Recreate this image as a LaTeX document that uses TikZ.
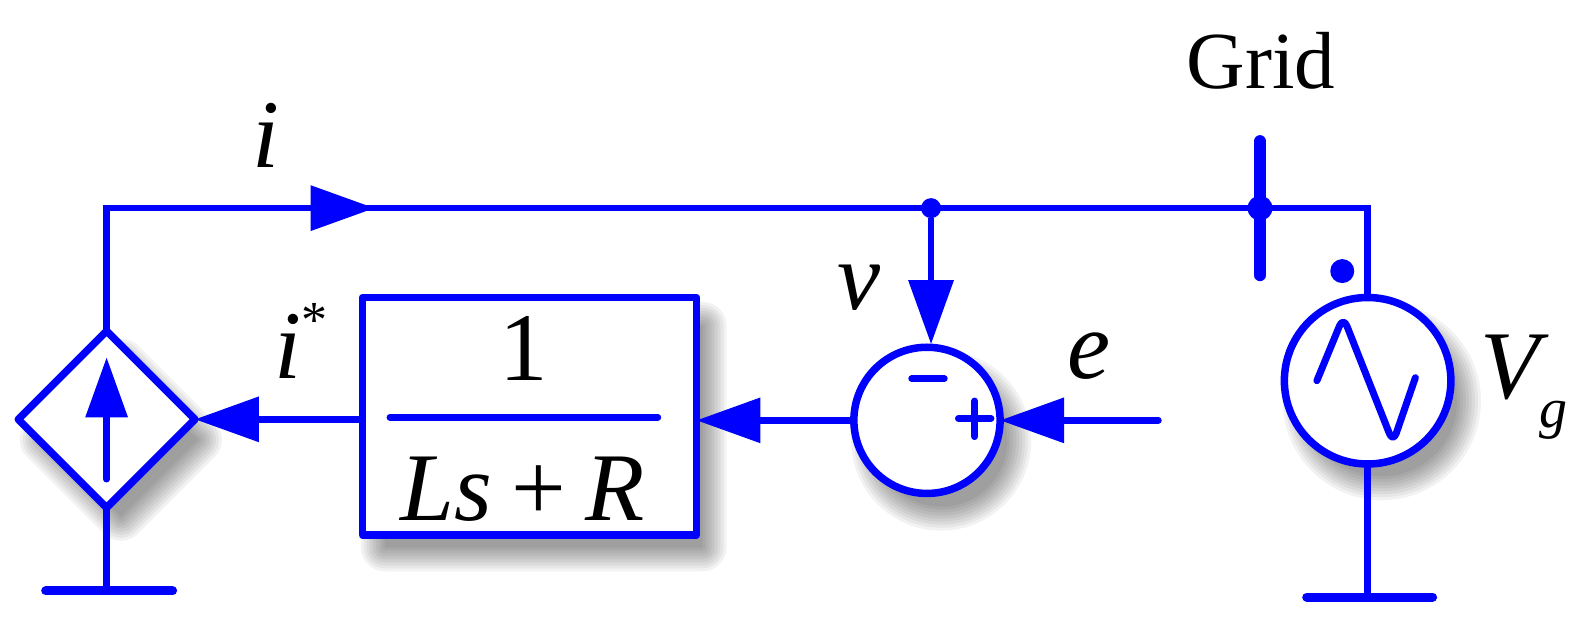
\documentclass[tikz,border=0pt]{standalone}
\usepackage{fontspec}
\setmainfont{Liberation Serif}
\usetikzlibrary{arrows.meta,shapes.geometric}
\definecolor{wireblue}{RGB}{0,0,255}
\tikzset{
  wire/.style={draw=wireblue,line width=6.5pt},
  bar/.style={draw=wireblue,line width=9pt,line cap=round},
  blockshape/.style={draw=wireblue,line width=7.5pt,fill=white,inner sep=0pt,outer sep=0pt,line join=round},
  flow/.style={wire,-{Triangle[length=64pt,width=44pt]}},
  dotmark/.style={circle,fill=wireblue,inner sep=0pt,outer sep=0pt},
  mathlabel/.style={inner sep=0pt,text=black,font=\fontsize{97}{97}\selectfont\itshape},
  symb/.style={draw=wireblue,line width=7pt,line cap=round,line join=round},
  shadowpart/.style={draw=black,fill=black,line join=round}
}
\begin{document}
\begin{tikzpicture}[x=1.0153pt,y=-1.0153pt]
\useasboundingbox (0,0) rectangle (1568,615.6);
% soft shadows
\foreach \w in {48,42,36,30,24,18,12,6,0.1}{
  \begin{scope}[transparency group,opacity=.05]
  \path (0,0) rectangle (1568,615.6);
  \begin{scope}[shift={(14,20)},line width=\w pt]
  \draw[shadowpart] (105,337)--(181,413)--(105,489)--(29,413)--cycle;
  \draw[shadowpart] (365,301) rectangle (678,519);
  \draw[shadowpart] (913,414) circle (65);
  \draw[shadowpart] (1347,375) circle (74);
  \end{scope}
  \end{scope}
}
% blocks
\node[blockshape,diamond,aspect=1,minimum width=176.7pt,minimum height=176.7pt] (src) at (105,413) {};
\node[blockshape,rectangle,minimum width=334pt,minimum height=237.6pt] (tf) at (521.5,410) {};
\node[blockshape,circle,minimum size=146.2pt] (sum) at (913,414) {};
\node[blockshape,circle,minimum size=166.5pt] (gen) at (1347,375) {};
% junctions and free ends
\node[dotmark,minimum size=20pt] (jv) at (917,205) {};
\node[dotmark,minimum size=25pt] (jg) at (1241,205) {};
\node[dotmark,minimum size=24pt] (pol) at (1322,267) {};
\coordinate (tl) at (105,205);
\coordinate (tr) at (1347,205);
\coordinate (arrowi) at (369,205);
\coordinate (gndL) at (105,582);
\coordinate (gndLa) at (45,582);
\coordinate (gndLb) at (170,582);
\coordinate (gndR) at (1347,588);
\coordinate (gndRa) at (1287,588);
\coordinate (gndRb) at (1411,588);
\coordinate (gridT) at (1241,139);
\coordinate (gridB) at (1241,271);
\coordinate (efree) at (1141,414);
\coordinate (inS) at (105,472);
\coordinate (inT) at (105,352);
% wires
\draw[wire,line join=miter] (src.north) -- (tl) -- (tr) -- (gen.north);
\draw[flow] (tl) -- (arrowi);
\draw[wire] (src.south) -- (gndL);
\draw[wire] (gen.south) -- (gndR);
\draw[bar] (gndLa) -- (gndLb);
\draw[bar] (gndRa) -- (gndRb);
\draw[bar,line width=12pt] (gridT) -- (gridB);
\draw[flow] (jv) -- (917,339);
\draw[flow,line cap=round] (efree) -- (sum.east);
\draw[flow] (sum.west) -- (sum.west-|tf.east);
\draw[flow] (tf.west|-src.east) -- (src.east);
\draw[wire,line cap=round,-{Triangle[length=60pt,width=41pt]}] (inS) -- (inT);
% source symbols
\draw[symb] (898,373) -- (930,373);
\draw[symb] (944,412) -- (976,412) (960,395) -- (960,430);
\draw[symb,rounded corners=10pt] (1297,375) -- (1323,312) -- (1372,436) -- (1394,372);
% fraction
\draw[symb,line width=6.5pt] (384,411) -- (648,411);
\node[inner sep=0pt,font=\fontsize{97}{97}\selectfont,anchor=base] (one) at (516,375) {1};
\node[mathlabel,anchor=base] (den) at (515,513) {Ls\hspace{.2em}{\upshape +}\hspace{.2em}R};
% labels
\node[inner sep=0pt,font=\fontsize{81}{81}\selectfont,anchor=base] (grid) at (1242,87) {Grid};
\node[mathlabel,anchor=base] (li) at (262,165) {i};
\node[mathlabel,anchor=base west] (lis) at (270,373) {i\raisebox{.43em}{\fontsize{52}{52}\selectfont\upshape*}};
\node[mathlabel,anchor=base] (lv) at (846,305) {v};
\node[mathlabel,anchor=base] (le) at (1073,373) {e};
\node[mathlabel,anchor=base west] (lV) at (1458,392) {V\raisebox{-.3em}{\fontsize{56}{56}\selectfont g}};
\end{tikzpicture}
\end{document}
